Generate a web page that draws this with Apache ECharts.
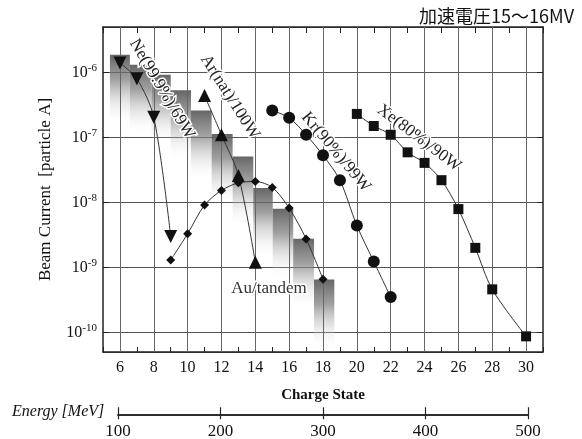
<!DOCTYPE html>
<html>
<head>
<meta charset="utf-8">
<script src="https://cdn.jsdelivr.net/npm/echarts@6/dist/echarts.min.js"></script>
<style>
html, body { margin: 0; padding: 0; background: #fff; }
#main { width: 582px; height: 439px; }
</style>
</head>
<body>
<div id="main"></div>
<script>
var dom = document.getElementById("main");
var myChart = echarts.init(dom);

// values
var neCharge = [6, 7, 8, 9];
var neCurrent = [1.4e-6, 8.0e-7, 2.05e-7, 3.0e-9];
var arCharge = [11, 12, 13, 14];
var arCurrent = [4.4e-7, 1.1e-7, 2.6e-8, 1.2e-9];
var krCharge = [15, 16, 17, 18, 19, 20, 21, 22];
var krCurrent = [2.6e-7, 2.0e-7, 1.1e-7, 5.3e-8, 2.2e-8, 4.4e-9, 1.23e-9, 3.5e-10];
var xeCharge = [20, 21, 22, 23, 24, 25, 26, 27, 28, 30];
var xeCurrent = [2.3e-7, 1.5e-7, 1.1e-7, 5.9e-8, 4.06e-8, 2.2e-8, 7.9e-9, 2.0e-9, 4.6e-10, 8.7e-11];
var auCharge = [9, 10, 11, 12, 13, 14, 15, 16, 17, 18];
var auCurrent = [1.3e-9, 3.3e-9, 9.1e-9, 1.53e-8, 2.0e-8, 2.1e-8, 1.7e-8, 8.2e-9, 2.75e-9, 6.6e-10];

// Au/tandem shaded bars (left edge, right edge on charge axis, top current)
var barLeft = [5.41, 6.59, 7.87, 9.0, 10.2, 11.42, 12.66, 13.88, 15.03, 16.24, 17.47];
var barRight = [6.59, 7.87, 9.0, 10.2, 11.42, 12.66, 13.88, 15.03, 16.24, 17.47, 18.67];
var barTop = [1.87e-6, 1.31e-6, 9.2e-7, 5.3e-7, 2.6e-7, 1.13e-7, 5.1e-8, 1.67e-8, 8.0e-9, 2.77e-9, 6.5e-10];

var chargeGrid = [6, 8, 10, 12, 14, 16, 18, 20, 22, 24, 26, 28, 30];
var decades = [1e-11, 1e-10, 1e-9, 1e-8, 1e-7, 1e-6];
var energyTicks = [100, 200, 300, 400, 500];

var serif = "'Liberation Serif', 'DejaVu Serif', serif";
var yMin = 5e-11, yMax = 5e-6;

var minorLevels = [];
decades.forEach(function (d) {
	for (var m = 2; m <= 9; m++) {
		var v = d * m;
		if (v > yMin && v < yMax) minorLevels.push(v);
	}
});

function pairs(xs, ys) {
	return xs.map(function (x, i) { return [x, ys[i]]; });
}

var barData = barLeft.map(function (l, i) { return [l, barRight[i], barTop[i]]; });

var lineStyle = { color: '#333', width: 1 };

function note(text, x, y, deg, color) {
	return {
		type: 'text', x: x, y: y, z: 50,
		rotation: deg * Math.PI / 180,
		style: {
			text: text, font: "17px " + serif, fill: color || '#222',
			stroke: '#fff', lineWidth: 3,
			textAlign: 'center', textVerticalAlign: 'middle'
		}
	};
}

option = {
	animation: false,
	backgroundColor: '#fff',
	grid: [
		{ left: 103, right: 39, top: 27, bottom: 87 },
		{ left: 118, right: 54, top: 414, height: 1 }
	],
	xAxis: [{
		type: 'value',
		min: 5,
		max: 31,
		interval: 1,
		name: 'Charge State',
		nameLocation: 'middle',
		nameGap: 36,
		nameTextStyle: { fontFamily: serif, fontSize: 15, fontWeight: 'bold', color: '#111' },
		axisLine: { lineStyle: { color: '#222', width: 1.5 } },
		axisTick: { inside: true, length: 5, lineStyle: { color: '#222' } },
		axisLabel: {
			margin: 8,
			fontFamily: serif,
			fontSize: 16,
			color: '#111',
			formatter: function (v) { return v % 2 === 0 ? v : ''; }
		},
		splitLine: { show: false }
	}, {
		type: 'value',
		position: 'top',
		min: 5,
		max: 31,
		interval: 1,
		axisLine: { show: true, lineStyle: { color: '#222', width: 1.5 } },
		axisTick: { inside: true, length: 6, lineStyle: { color: '#222' } },
		axisLabel: { show: false },
		splitLine: { show: false }
	}, {
		type: 'value',
		gridIndex: 1,
		position: 'top',
		min: energyTicks[0],
		max: energyTicks[energyTicks.length - 1],
		interval: 100,
		axisLine: { show: true, lineStyle: { color: '#222', width: 1.5 } },
		axisTick: { length: 7, lineStyle: { color: '#222', width: 1.2 } },
		axisLabel: { show: false },
		splitLine: { show: false }
	}, {
		type: 'value',
		gridIndex: 1,
		position: 'bottom',
		min: energyTicks[0],
		max: energyTicks[energyTicks.length - 1],
		interval: 100,
		axisLine: { show: true, lineStyle: { color: '#222', width: 1.5 } },
		axisTick: { length: 5, lineStyle: { color: '#222', width: 1.2 } },
		axisLabel: { margin: 9, fontFamily: serif, fontSize: 17, color: '#111' },
		splitLine: { show: false }
	}],
	yAxis: [{
		type: 'log',
		logBase: 10,
		min: yMin,
		max: yMax,
		name: 'Beam Current  [particle A]',
		nameLocation: 'middle',
		nameGap: 49,
		nameTextStyle: { fontFamily: serif, fontSize: 17, color: '#111' },
		axisLine: { show: true, lineStyle: { color: '#222', width: 1.5 } },
		axisTick: { inside: true, length: 6, lineStyle: { color: '#222' } },
		axisLabel: {
			margin: 6,
			color: '#111',
			showMinLabel: false,
			showMaxLabel: false,
			formatter: function (v) {
				var e = Math.log(v) / Math.LN10;
				if (Math.abs(e - Math.round(e)) > 0.01) return '';
				return '{b|10}{s|' + Math.round(e) + '}';
			},
			rich: {
				b: { fontFamily: serif, fontSize: 16, color: '#111' },
				s: { fontFamily: serif, fontSize: 11, color: '#111', padding: [0, 0, 9, 0] }
			}
		},
		splitLine: { show: true, lineStyle: { color: '#555', width: 1 } }
	}, {
		type: 'log',
		logBase: 10,
		position: 'right',
		min: yMin,
		max: yMax,
		axisLine: { show: true, lineStyle: { color: '#222', width: 1.5 } },
		axisTick: { inside: true, length: 6, lineStyle: { color: '#222' } },
		axisLabel: { show: false },
		splitLine: { show: false }
	}, {
		type: 'value',
		gridIndex: 1,
		show: false
	}],
	graphic: [
		{ type: 'text', right: 8, top: 7, style: { text: '加速電圧15～16MV', font: "18px 'Noto Sans CJK JP', sans-serif", fill: '#111' } },
		{ type: 'text', left: 12, top: 404, style: { text: 'Energy [MeV]', font: "italic 16px " + serif, fill: '#111' } },
		note('Ne(99.9%)/69W', 162, 89, -59.5),
		note('Ar(nat)/100W', 230, 97, -57.6),
		note('Kr(90%)/99W', 336, 152, -50),
		note('Xe(80%)/90W', 419, 138, -37),
		note('Au/tandem', 269, 289, 0, '#333')
	],
	series: [{
		// shaded Au/tandem bars
		type: 'custom',
		xAxisIndex: 0,
		yAxisIndex: 0,
		z: 1,
		silent: true,
		renderItem: function (params, api) {
			var p0 = api.coord([api.value(0), api.value(2)]);
			var p1 = api.coord([api.value(1), api.value(2) / 12]);
			return {
				type: 'rect',
				shape: { x: p0[0], y: p0[1], width: p1[0] - p0[0], height: p1[1] - p0[1] },
				style: {
					fill: new echarts.graphic.LinearGradient(0, 0, 0, 1, [
						{ offset: 0, color: 'rgba(85,85,85,0.9)' },
						{ offset: 0.35, color: 'rgba(120,120,120,0.7)' },
						{ offset: 1, color: 'rgba(255,255,255,0)' }
					])
				}
			};
		},
		encode: { x: [0, 1], y: 2 },
		data: barData
	}, {
		// grid lines
		type: 'line',
		xAxisIndex: 0,
		yAxisIndex: 0,
		z: 2,
		data: [],
		markLine: {
			silent: true,
			symbol: 'none',
			label: { show: false },
			animation: false,
			data: minorLevels.map(function (v) {
				return { yAxis: v, lineStyle: { color: '#bbb', type: 'dotted', width: 1 } };
			}).concat(chargeGrid.map(function (v) {
				return { xAxis: v, lineStyle: { color: '#666', type: 'solid', width: 1 } };
			}))
		}
	}, {
		name: 'Au', type: 'line', smooth: 0.3, z: 60,
		symbol: 'diamond', symbolSize: 9,
		itemStyle: { color: '#111' }, lineStyle: lineStyle,
		data: pairs(auCharge, auCurrent)
	}, {
		name: 'Ne', type: 'line', smooth: 0.3, z: 60,
		symbol: 'triangle', symbolRotate: 180, symbolSize: 13,
		itemStyle: { color: '#111' }, lineStyle: lineStyle,
		data: pairs(neCharge, neCurrent)
	}, {
		name: 'Ar', type: 'line', smooth: 0.3, z: 60,
		symbol: 'triangle', symbolSize: 13,
		itemStyle: { color: '#111' }, lineStyle: lineStyle,
		data: pairs(arCharge, arCurrent)
	}, {
		name: 'Kr', type: 'line', smooth: 0.3, z: 60,
		symbol: 'circle', symbolSize: 12,
		itemStyle: { color: '#111' }, lineStyle: lineStyle,
		data: pairs(krCharge, krCurrent)
	}, {
		name: 'Xe', type: 'line', smooth: 0.3, z: 60,
		symbol: 'rect', symbolSize: 10,
		itemStyle: { color: '#111' }, lineStyle: lineStyle,
		data: pairs(xeCharge, xeCurrent)
	}]
};
if (option && typeof option === "object") {
	myChart.setOption(option, true);
}
</script>
</body>
</html>
